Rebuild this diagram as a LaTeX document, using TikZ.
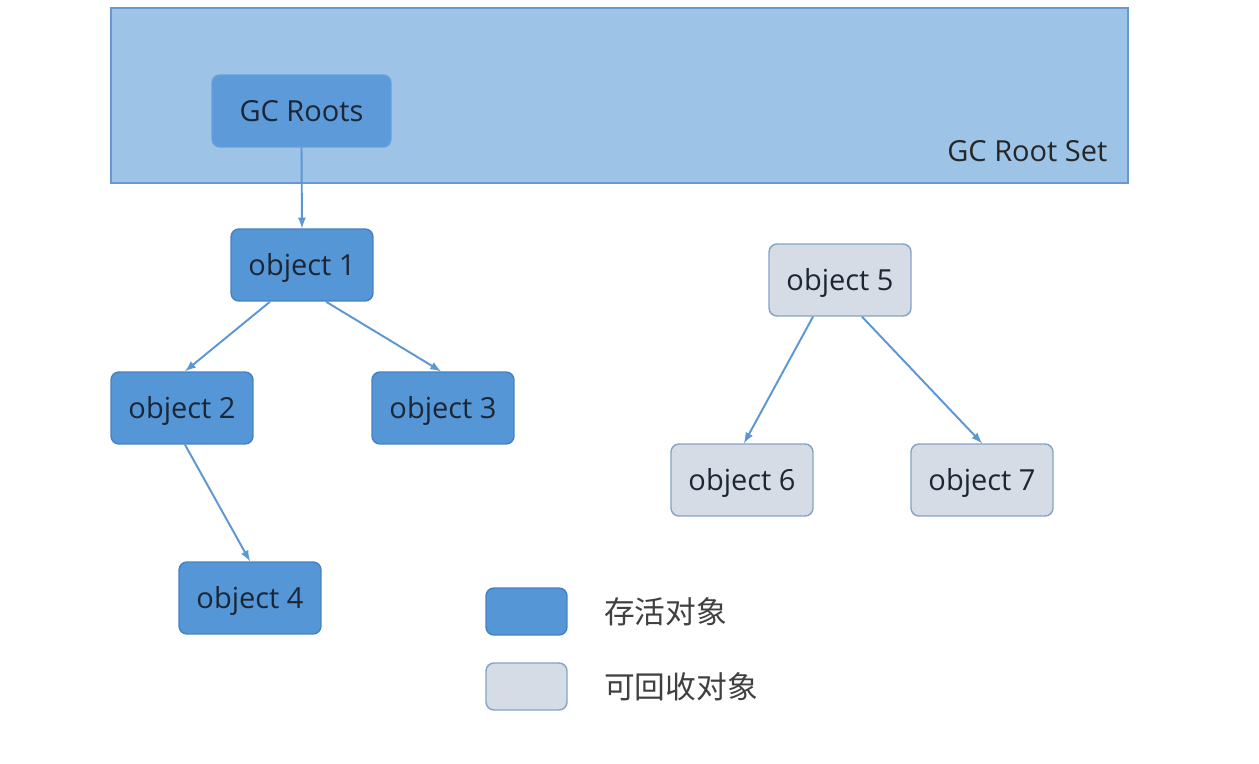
\documentclass[tikz,border=0pt]{standalone}
\usepackage{fontspec}
\setmainfont{Open Sans}
\newfontfamily\cjk{Noto Sans CJK SC}
\definecolor{GCset}{RGB}{157,195,230}
\definecolor{GCsetline}{RGB}{104,152,207}
\definecolor{GCalive}{RGB}{85,150,215}
\definecolor{GCaliveline}{RGB}{70,128,195}
\definecolor{GCdead}{RGB}{214,220,229}
\definecolor{GCdeadline}{RGB}{132,163,200}
\definecolor{GCarrow}{RGB}{91,150,213}
\definecolor{GCtext}{RGB}{28,38,52}

\begin{document}
\begin{tikzpicture}[x=0.02cm, y=-0.02cm,
	alive/.style={fill=GCalive, draw=GCaliveline, line width=0.8pt, rounded corners=0.16cm, minimum width=2.84cm, minimum height=1.44cm, text=GCtext, text depth=0.1ex},
	dead/.style={alive, fill=GCdead, draw=GCdeadline},
	legendbox/.style={rounded corners=0.16cm, minimum width=1.62cm, minimum height=0.94cm, line width=0.8pt},
	legendtext/.style={anchor=west, text=black!75, font=\cjk\fontsize{17.5}{20}\selectfont},
	link/.style={-latex, line width=1.1pt, GCarrow},
	every node/.style={font=\fontsize{16.5}{19}\selectfont}
	]
	\useasboundingbox [fill=white] (0,0) rectangle (1259,764);

	% root set
	\node (rootset) at (619.5,95.5) [fill=GCset, draw=GCsetline, line width=0.8pt, minimum width=20.34cm, minimum height=3.5cm] {};
	\node at (rootset.south east) [anchor=south east, xshift=-0.3cm, yshift=0.32cm, text=black!85] {GC Root Set};
	\node (roots) at (301.5,111) [alive, fill=GCalive!90!GCset, draw=GCalive!80!GCset, minimum width=3.58cm] {GC Roots};

	% live objects
	\node (o1) at (302,265) [alive] {object 1};
	\node (o2) at (182,408) [alive] {object 2};
	\node (o3) at (443,408) [alive] {object 3};
	\node (o4) at (250,598) [alive] {object 4};

	% garbage
	\node (o5) at (840,280) [dead] {object 5};
	\node (o6) at (742,480) [dead] {object 6};
	\node (o7) at (982,480) [dead] {object 7};

	\draw [link] (roots.south) -- (o1.north);
	\draw [link] ([xshift=-0.64cm]o1.south) -- ([xshift=0.06cm]o2.north);
	\draw [link] ([xshift=0.48cm]o1.south) -- ([xshift=-0.04cm]o3.north);
	\draw [link] ([xshift=0.06cm]o2.south) -- (o4.north);
	\draw [link] ([xshift=-0.54cm]o5.south) -- ([xshift=0.04cm]o6.north);
	\draw [link] ([xshift=0.44cm]o5.south) -- (o7.north);

	% legend
	\node (kalive) at (526.5,611.5) [legendbox, fill=GCalive, draw=GCaliveline] {};
	\node at (598,611.5) [legendtext] {存活对象};
	\node (kdead) at (526.5,686.5) [legendbox, fill=GCdead, draw=GCdeadline] {};
	\node at (598,686.5) [legendtext] {可回收对象};
\end{tikzpicture}
\end{document}
